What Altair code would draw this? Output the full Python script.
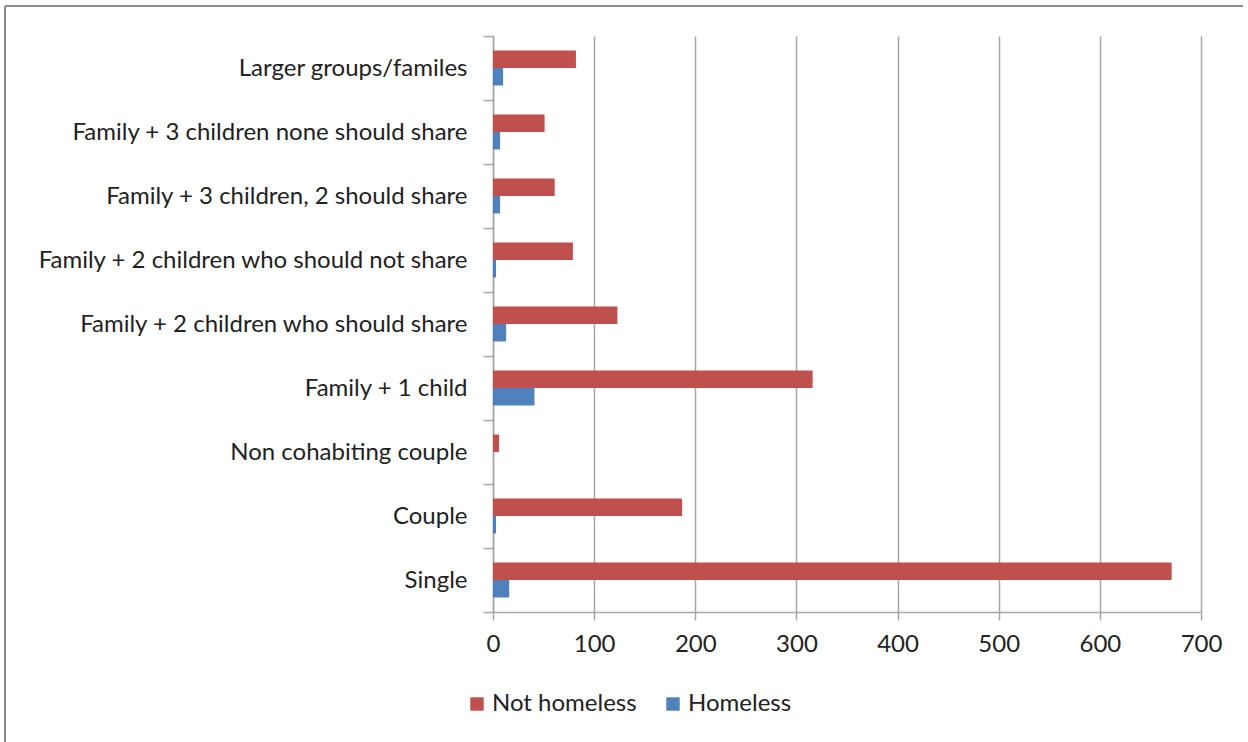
import altair as alt
import pandas as pd

categories = [
    "Larger groups/familes",
    "Family + 3 children none should share ",
    "Family + 3 children, 2 should share",
    "Family + 2 children who should not share",
    "Family + 2 children who should share",
    "Family + 1 child",
    "Non cohabiting couple",
    "Couple",
    "Single",
]
not_homeless = [82, 51, 61, 79, 123, 316, 6, 187, 671]
homeless = [10, 7, 7, 3, 13, 41, 0, 3, 16]
series = ["Not homeless", "Homeless"]
colors = ["#C0504D", "#4F81BD"]
x_ticks = [0, 100, 200, 300, 400, 500, 600, 700]

rows = []
for c, a, b in zip(categories, not_homeless, homeless):
    rows.append({"category": c, "series": series[0], "value": a})
    rows.append({"category": c, "series": series[1], "value": b})
df = pd.DataFrame(rows)

FONT = "Lato"

bars = alt.Chart(df).mark_bar(opacity=1).encode(
    x=alt.X("value:Q",
            scale=alt.Scale(domain=[0, 700], nice=False),
            axis=alt.Axis(values=x_ticks, title=None, grid=True,
                          gridColor="#A6A6A6", gridWidth=1.5,
                          domainColor="#A6A6A6", domainWidth=1.5,
                          tickColor="#A6A6A6", tickWidth=1.5, tickSize=8,
                          labelFontSize=24, labelFont=FONT, labelColor="#222222",
                          labelPadding=12, labelFlush=False)),
    y=alt.Y("category:N", sort=categories,
            scale=alt.Scale(paddingInner=0, paddingOuter=0),
            axis=alt.Axis(title=None, grid=False, tickBand="extent",
                          domainColor="#A6A6A6", domainWidth=1.5,
                          tickColor="#A6A6A6", tickWidth=1.5, tickSize=10,
                          labelFontSize=24, labelFont=FONT, labelColor="#222222",
                          labelPadding=16, labelLimit=600)),
    yOffset=alt.YOffset("series:N", sort=series,
                        scale=alt.Scale(domain=series, paddingInner=0, paddingOuter=0.83)),
    color=alt.Color("series:N", sort=series,
                    scale=alt.Scale(domain=series, range=colors),
                    legend=alt.Legend(title=None, orient="none", direction="horizontal",
                                      legendX=-28, legendY=656,
                                      symbolType="square", symbolSize=180,
                                      symbolStrokeWidth=0,
                                      labelFontSize=24, labelFont=FONT,
                                      labelColor="#222222", columnPadding=24,
                                      symbolOffset=0, labelOffset=3)),
)

frame_top = alt.Chart(alt.Data(values=[{}])).mark_rule(color="#8C8C8C", strokeWidth=2).encode(
    x=alt.value(-488), x2=alt.value(750), y=alt.value(-30))
frame_left = alt.Chart(alt.Data(values=[{}])).mark_rule(color="#8C8C8C", strokeWidth=2).encode(
    x=alt.value(-488), y=alt.value(-30), y2=alt.value(720))

chart = alt.layer(bars, frame_top, frame_left).properties(
    width=708, height=576,
    autosize=alt.AutoSizeParams(type="none"),
    padding={"left": 493, "top": 36, "right": 47, "bottom": 130},
    background="white",
).configure_view(stroke=None)

chart.save("out.html", embed_options={"renderer": "svg", "actions": False})
